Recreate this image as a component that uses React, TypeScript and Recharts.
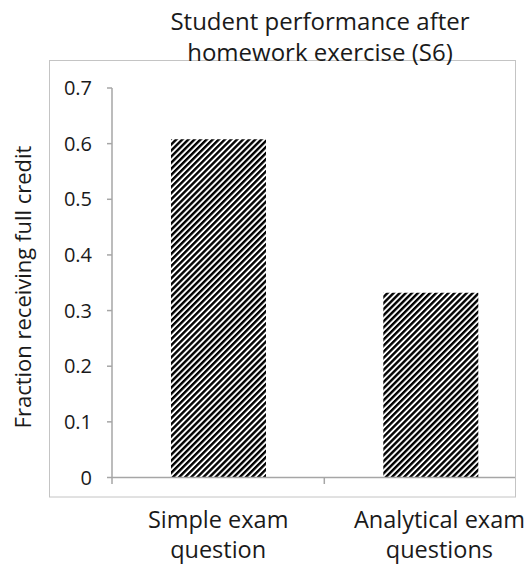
import React from "react";
import { BarChart, Bar, XAxis, YAxis } from "recharts";

const categories = ["Simple exam question", "Analytical exam questions"];
const categoryLines = [
  ["Simple exam", "question"],
  ["Analytical exam", "questions"],
];
const fractionFullCredit = [0.608, 0.332];
const yTicks = [0, 0.1, 0.2, 0.3, 0.4, 0.5, 0.6, 0.7];
const titleLines = ["Student performance after", "homework exercise (S6)"];
const yAxisTitle = "Fraction receiving full credit";

const data = categories.map((c, i) => ({ name: c, value: fractionFullCredit[i] }));

const FONT = "'Open Sans', sans-serif";
const AXIS = "#a6a6a6";

const XTick = (props: any) => {
  const { x, y, payload, index } = props;
  const off = payload && payload.offset ? payload.offset : 106;
  const lines = categoryLines[index] || [String(payload.value)];
  const shift = index === 1 ? 9 : 0;
  return (
    <g>
      <line x1={x - off} x2={x - off} y1={y} y2={y + 6.5} stroke={AXIS} strokeWidth={1.5} />
      {lines.map((l, i) => (
        <text
          key={i}
          x={x + shift}
          y={y + 50 + i * 30}
          textAnchor="middle"
          fontFamily={FONT}
          fontSize={23.5}
          fill="#1a1a1a"
        >
          {l}
        </text>
      ))}
    </g>
  );
};

export default function App() {
  return (
    <div style={{ position: "fixed", left: 0, top: 0, width: 524, height: 565, overflow: "hidden", background: "#fff" }}>
      <div style={{ position: "absolute", left: 8, top: 8 }}>
        <BarChart
          width={540}
          height={557}
          data={data}
          margin={{ top: 80, right: 11.4, left: 0, bottom: 0 }}
          barSize={95}
        >
          <defs>
            <pattern
              id="stripes"
              patternUnits="userSpaceOnUse"
              width={4.3}
              height={4.3}
              patternTransform="rotate(45)"
            >
              <rect x={0} y={0} width={4.3} height={4.3} fill="#fff" />
              <rect x={0} y={0} width={2.4} height={4.3} fill="#000" />
            </pattern>
          </defs>
          <XAxis
            dataKey="name"
            height={87.5}
            tickSize={0}
            tickMargin={0}
            tickLine={false}
            axisLine={{ stroke: AXIS, strokeWidth: 1.5 }}
            tick={<XTick />}
            interval={0}
          />
          <YAxis
            width={104}
            domain={[0, 0.7]}
            ticks={yTicks}
            tickSize={5}
            tickMargin={15}
            axisLine={{ stroke: AXIS, strokeWidth: 1.5 }}
            tickLine={{ stroke: AXIS, strokeWidth: 1.5 }}
            tick={{ fontFamily: FONT, fontSize: 20, fill: "#1a1a1a" }}
            tickFormatter={(v: number) => (v === 0 ? "0" : v.toFixed(1))}
            allowDataOverflow
          />
          <Bar dataKey="value" fill="url(#stripes)" isAnimationActive={false} />
        </BarChart>
      </div>
      <svg
        width={524}
        height={565}
        style={{ position: "absolute", left: 0, top: 0, pointerEvents: "none" }}
      >
        <rect x={516} y={61} width={10} height={436} fill="#fff" />
        <rect x={49.5} y={60.5} width={466} height={436.5} fill="none" stroke="#c4c4c4" strokeWidth={1} />
        {titleLines.map((t, i) => (
          <text
            key={i}
            x={320}
            y={30 + i * 31}
            textAnchor="middle"
            fontFamily={FONT}
            fontSize={24}
            fill="#1a1a1a"
          >
            {t}
          </text>
        ))}
        <text
          x={0}
          y={0}
          transform="translate(31,287) rotate(-90)"
          textAnchor="middle"
          fontFamily={FONT}
          fontSize={22}
          fill="#1a1a1a"
        >
          {yAxisTitle}
        </text>
      </svg>
    </div>
  );
}
